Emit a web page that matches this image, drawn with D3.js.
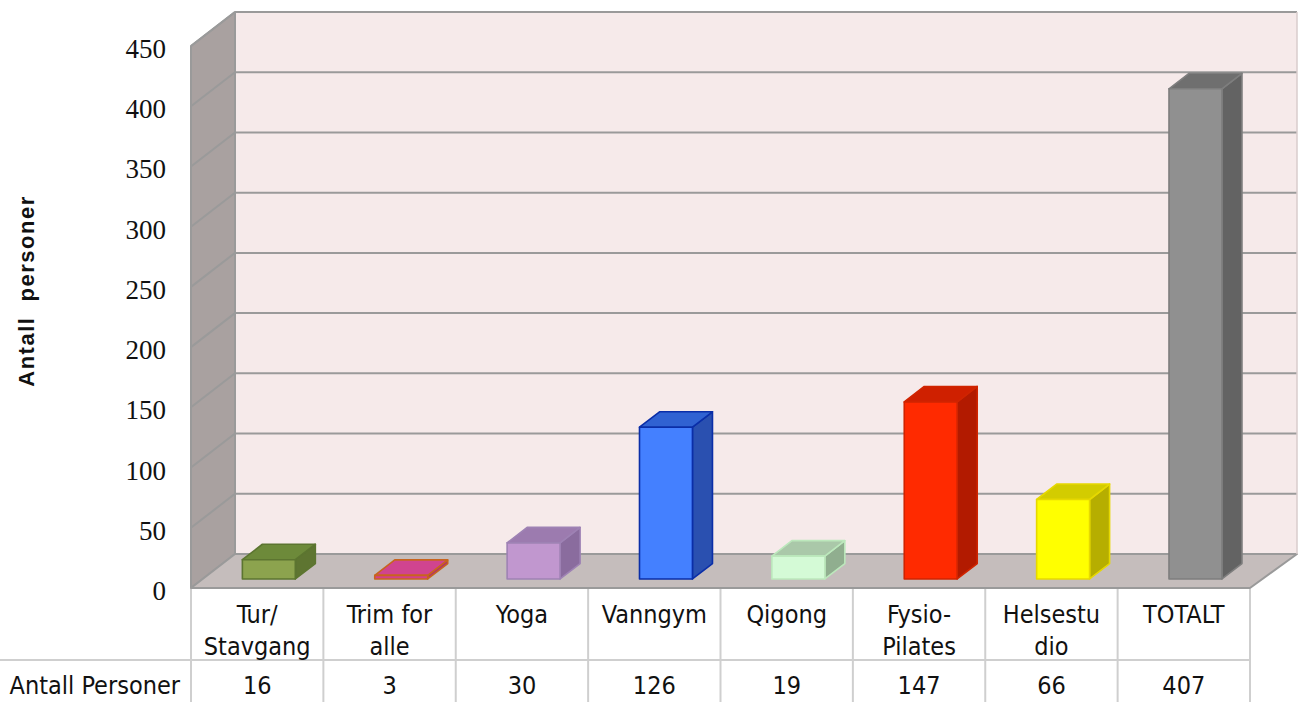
<!DOCTYPE html>
<html>
<head>
<meta charset="utf-8">
<script src="https://cdn.jsdelivr.net/npm/d3@7"></script>
<style>
  html, body { margin: 0; padding: 0; background: #fff; }
  svg { display: block; }
  .tick-label { font-family: "Liberation Serif", "DejaVu Serif", serif; font-size: 27px; fill: #111; }
  .cat-label, .val-label, .row-head { font-family: "DejaVu Sans Condensed", "DejaVu Sans", sans-serif; font-size: 25px; fill: #111; }
  .axis-title { font-family: "Liberation Sans", "Open Sans", sans-serif; font-weight: bold; font-size: 22px; letter-spacing: 1.5px; fill: #111; white-space: pre; }
</style>
</head>
<body>
<script>
// Activity participation data
const categories = ["Tur/ Stavgang", "Trim for alle", "Yoga", "Vanngym", "Qigong", "Fysio-Pilates", "Helsestudio", "TOTALT"];
const labelLines = [["Tur/", "Stavgang"], ["Trim for", "alle"], ["Yoga"], ["Vanngym"], ["Qigong"], ["Fysio-", "Pilates"], ["Helsestu", "dio"], ["TOTALT"]];
const values = [16, 3, 30, 126, 19, 147, 66, 407];
const tickValues = [0, 50, 100, 150, 200, 250, 300, 350, 400, 450];
const seriesName = "Antall Personer";
const axisTitle = "Antall  personer";

// Bar colours: front, top, side, outline
const barColors = [
  { front: "#8CA34E", top: "#6D8A3A", side: "#5E7531", stroke: "#5C7530" },
  { front: "#D43F8D", top: "#D0448F", side: "#B0306F", stroke: "#C8641E" },
  { front: "#C197CF", top: "#9C7BAF", side: "#8A6C9E", stroke: "#9E82B4" },
  { front: "#4480FF", top: "#3062D2", side: "#2A50B0", stroke: "#0A2EA8" },
  { front: "#D4FAD6", top: "#AAC8A9", side: "#90AE8F", stroke: "#BCE8BC" },
  { front: "#FF2A00", top: "#CF2000", side: "#B21A00", stroke: "#D02400" },
  { front: "#FFFF00", top: "#D3CC00", side: "#B6AE00", stroke: "#E6D800" },
  { front: "#909090", top: "#6F6F6F", side: "#636363", stroke: "#7E7E7E" }
];

const W = 1302, H = 702;
const svg = d3.select("body").append("svg").attr("width", W).attr("height", H);

// Plot geometry (front plane + depth offset for the 3D box)
const frontLeft = 191, frontRight = 1250, baseY = 588;
const depthDX = 44, depthDY = -34;

const x = d3.scaleBand().domain(categories).range([frontLeft, frontRight]).paddingInner(0.6).paddingOuter(0.3);
const xCell = d3.scaleBand().domain(categories).range([frontLeft, frontRight]).padding(0);
const h = d3.scaleLinear().domain([0, 450]).range([0, 542]);
const depth = d3.scaleLinear().domain([0, 1]).range([0, 1]);
const off = f => [depthDX * depth(f), depthDY * depth(f)];

const gridColor = "#9A9A9A";

// Back wall
const backL = frontLeft + depthDX, backR = frontRight + depthDX + 3, backBase = baseY + depthDY;
svg.append("rect")
  .attr("x", backL).attr("y", backBase - h(450))
  .attr("width", backR - backL).attr("height", h(450))
  .attr("fill", "#F6EAEA");

// Left side wall
svg.append("polygon")
  .attr("points", [[frontLeft, baseY], [frontLeft, baseY - h(450)], [backL, backBase - h(450)], [backL, backBase]].map(p => p.join(",")).join(" "))
  .attr("fill", "#A9A1A0").attr("stroke", gridColor).attr("stroke-width", 2).attr("stroke-linejoin", "round");

// Floor
svg.append("polygon")
  .attr("points", [[frontLeft, baseY], [frontRight, baseY], [backR, backBase], [backL, backBase]].map(p => p.join(",")).join(" "))
  .attr("fill", "#C5BDBC").attr("stroke", gridColor).attr("stroke-width", 2).attr("stroke-linejoin", "round");

// Gridlines on back wall and side wall
const grid = svg.append("g");
tickValues.filter(v => v > 0).forEach(v => {
  grid.append("line")
    .attr("x1", backL).attr("x2", backR)
    .attr("y1", backBase - h(v)).attr("y2", backBase - h(v))
    .attr("stroke", gridColor).attr("stroke-width", 2);
  grid.append("line")
    .attr("x1", frontLeft).attr("x2", backL)
    .attr("y1", baseY - h(v)).attr("y2", backBase - h(v))
    .attr("stroke", gridColor).attr("stroke-width", 2);
});
grid.append("line").attr("x1", backL).attr("x2", backL)
  .attr("y1", backBase - h(450)).attr("y2", backBase)
  .attr("stroke", gridColor).attr("stroke-width", 2);
grid.append("line").attr("x1", backR).attr("x2", backR)
  .attr("y1", backBase - h(450)).attr("y2", backBase)
  .attr("stroke", "#D8CCCC").attr("stroke-width", 1.5);

// Y tick labels
svg.append("g").selectAll("text").data(tickValues).join("text")
  .attr("class", "tick-label")
  .attr("x", 166).attr("y", v => baseY - h(v) + 12)
  .attr("text-anchor", "end")
  .text(v => v);

// Y axis title
svg.append("text").attr("class", "axis-title")
  .attr("xml:space", "preserve")
  .attr("transform", "translate(34,291) rotate(-90)")
  .attr("text-anchor", "middle")
  .text(axisTitle);

// 3D bars
const f0 = 0.265, f1 = 0.72;
const bars = svg.append("g");
categories.forEach((c, i) => {
  const v = values[i], col = barColors[i];
  const [dx0, dy0] = off(f0), [dx1, dy1] = off(f1);
  const xl = x(c) + dx0, xr = x(c) + x.bandwidth() + dx0;
  const yb = baseY + dy0, yt = yb - h(v);
  const g = bars.append("g")
    .attr("stroke", col.stroke).attr("stroke-width", 1.6).attr("stroke-linejoin", "round");
  // right side
  g.append("polygon")
    .attr("points", [[xr, yb], [xr, yt], [xr + dx1 - dx0, yt + dy1 - dy0], [xr + dx1 - dx0, yb + dy1 - dy0]].map(p => p.join(",")).join(" "))
    .attr("fill", col.side);
  // top
  g.append("polygon")
    .attr("points", [[xl, yt], [xr, yt], [xr + dx1 - dx0, yt + dy1 - dy0], [xl + dx1 - dx0, yt + dy1 - dy0]].map(p => p.join(",")).join(" "))
    .attr("fill", col.top);
  // front
  g.append("rect")
    .attr("x", xl).attr("y", yt).attr("width", x.bandwidth()).attr("height", h(v))
    .attr("fill", col.front);
});

// Data table under the chart
const tableColor = "#CFCFCF";
const table = svg.append("g");
const cellEdges = categories.map(c => xCell(c)).concat([frontRight]);
cellEdges.forEach(xe => {
  table.append("line").attr("x1", xe).attr("x2", xe).attr("y1", baseY + 1).attr("y2", H)
    .attr("stroke", tableColor).attr("stroke-width", 2);
});
table.append("line").attr("x1", 0).attr("x2", frontRight).attr("y1", 660).attr("y2", 660)
  .attr("stroke", tableColor).attr("stroke-width", 2);

// Category labels
categories.forEach((c, i) => {
  const cx = xCell(c) + xCell.bandwidth() / 2;
  labelLines[i].forEach((ln, j) => {
    table.append("text").attr("class", "cat-label")
      .attr("x", cx).attr("y", 623 + j * 32)
      .attr("text-anchor", "middle").text(ln);
  });
  table.append("text").attr("class", "val-label")
    .attr("x", cx).attr("y", 694)
    .attr("text-anchor", "middle").text(values[i]);
});
table.append("text").attr("class", "row-head")
  .attr("x", 180).attr("y", 694).attr("text-anchor", "end").text(seriesName);
</script>
</body>
</html>
